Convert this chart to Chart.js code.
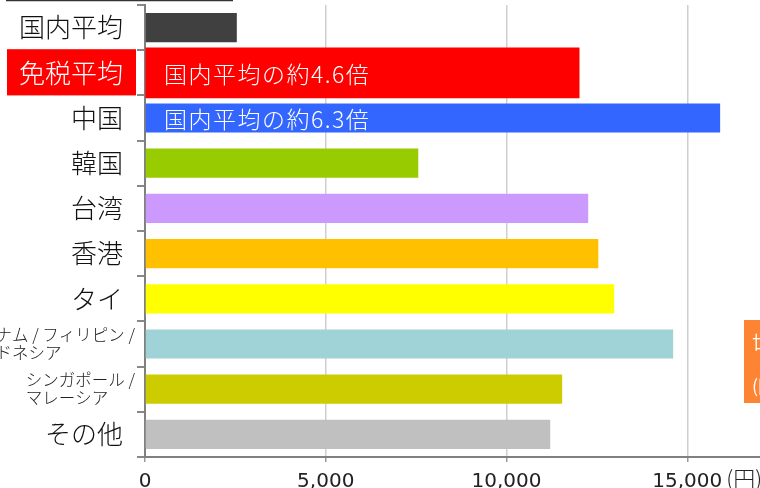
<!DOCTYPE html>
<html lang="ja">
<head>
<meta charset="utf-8">
<title>免税売上 一人当たり購買単価</title>
<script src="https://cdn.jsdelivr.net/npm/chart.js@4"></script>
<style>
  html, body { margin: 0; padding: 0; background: #fff; overflow: hidden; }
  #wrap { position: relative; width: 760px; height: 488px; overflow: hidden; }
  #spendChart { position: absolute; left: -40px; top: 0; }
</style>
</head>
<body>
<div id="wrap">
  <canvas id="spendChart" width="960" height="488"></canvas>
</div>
<script>
// =============================================
// DATA
// =============================================

const categories = [
    '国内平均',
    '免税平均',
    '中国',
    '韓国',
    '台湾',
    '香港',
    'タイ',
    ['ベトナム / フィリピン /', 'インドネシア'],
    ['シンガポール /', 'マレーシア'],
    'その他'
];

// 一人当たり購買単価 (円)
const spend = [2540, 12010, 15910, 7560, 12260, 12540, 12980, 14610, 11540, 11210];

const barColors = [
    '#404040', '#ff0000', '#3366ff', '#99cc00', '#cc99ff',
    '#ffc000', '#ffff00', '#9fd3d7', '#cccc00', '#c0c0c0'
];

const barNotes = ['', '国内平均の約4.6倍', '国内平均の約6.3倍', '', '', '', '', '', '', ''];

const xTicks = [0, 5000, 10000, 15000, 20000];
const unitLabel = '(円)';
const sideNote = ['世界', '(円)'];

const HIGHLIGHT = 1;   // 免税平均
const JP_FONT = '"Noto Sans CJK JP", "Noto Sans", sans-serif';

// =============================================
// PLUGINS
// =============================================

// white notes inside the highlighted bars
const barNotePlugin = {
    id: 'barNotes',
    afterDatasetsDraw(chart) {
        const { ctx, chartArea, scales } = chart;
        ctx.save();
        ctx.font = '300 23px ' + JP_FONT;
        ctx.letterSpacing = '1.5px';
        ctx.fillStyle = '#ffffff';
        ctx.textAlign = 'left';
        ctx.textBaseline = 'middle';
        barNotes.forEach((note, i) => {
            if (!note) return;
            ctx.fillText(note, chartArea.left + 19, scales.y.getPixelForValue(i) + 1);
        });
        ctx.restore();
    }
};

// two-line category names: block sits right, lines start flush left
const multiLabelPlugin = {
    id: 'multiLabels',
    afterDraw(chart) {
        const { ctx, scales } = chart;
        const right = scales.y.right - 10;
        ctx.save();
        ctx.font = '300 16.5px ' + JP_FONT;
        ctx.fillStyle = '#222';
        ctx.textAlign = 'left';
        ctx.textBaseline = 'middle';
        categories.forEach((label, i) => {
            if (!Array.isArray(label)) return;
            const width = Math.max(...label.map(l => ctx.measureText(l).width));
            const y = scales.y.getPixelForValue(i);
            const lineH = 18;
            label.forEach((line, k) => {
                ctx.fillText(line, right - width, y + (k - (label.length - 1) / 2) * lineH);
            });
        });
        ctx.restore();
    }
};

// unit after the 15,000 tick, the rule above, and the side box
const extrasPlugin = {
    id: 'extras',
    afterDraw(chart) {
        const { ctx, scales, chartArea } = chart;
        const xs = scales.x;
        ctx.save();

        ctx.font = '300 22px ' + JP_FONT;
        ctx.fillStyle = '#222';
        ctx.textAlign = 'left';
        ctx.textBaseline = 'middle';
        ctx.fillText(unitLabel, xs.getPixelForValue(15000) + 39, chartArea.bottom + 22);

        // rule along the top edge
        ctx.strokeStyle = '#333';
        ctx.lineWidth = 1.5;
        ctx.beginPath();
        ctx.moveTo(46, 0.5);
        ctx.lineTo(273, 0.5);
        ctx.stroke();

        // orange side box
        ctx.fillStyle = '#fd8432';
        ctx.fillRect(784, 320, 120, 83);
        ctx.fillStyle = '#ffffff';
        ctx.font = '18px ' + JP_FONT;
        ctx.fillText(sideNote[0], 792, 342);
        ctx.fillText(sideNote[1], 792, 386);

        ctx.restore();
    }
};

// =============================================
// CHART
// =============================================

const mainValues = spend.map((v, i) => (i === HIGHLIGHT ? null : v));
const highlightValues = spend.map((v, i) => (i === HIGHLIGHT ? v : null));

const ctx = document.getElementById('spendChart').getContext('2d');

const chart = new Chart(ctx, {
    type: 'bar',
    data: {
        labels: categories,
        datasets: [
            {
                label: '購買単価',
                data: mainValues,
                backgroundColor: barColors,
                borderWidth: 0,
                barPercentage: 1,
                categoryPercentage: 0.645,
                grouped: false
            },
            {
                label: '免税平均',
                data: highlightValues,
                backgroundColor: barColors[HIGHLIGHT],
                borderWidth: 0,
                barThickness: 50,
                grouped: false
            }
        ]
    },
    options: {
        indexAxis: 'y',
        responsive: false,
        animation: false,
        layout: { padding: { top: 5, left: 0, right: 52, bottom: 0 } },
        plugins: {
            legend: { display: false },
            tooltip: { enabled: false }
        },
        scales: {
            x: {
                min: 0,
                max: 20000,
                afterBuildTicks: (scale) => {
                    scale.ticks = xTicks.map(v => ({ value: v }));
                },
                ticks: {
                    font: { family: '"DejaVu Sans", sans-serif', size: 20 },
                    color: '#222',
                    padding: 8,
                    maxRotation: 0,
                    callback: (value) => value.toLocaleString('en-US')
                },
                grid: {
                    color: (c) => (c.tick && c.tick.value === 0 ? 'rgba(0,0,0,0)' : '#cfcfcf'),
                    lineWidth: 1.5,
                    tickLength: 5,
                    tickColor: '#999'
                },
                border: { color: '#808080', width: 2 },
                afterFit: (scale) => { scale.height = 31; }
            },
            y: {
                grid: {
                    drawOnChartArea: false,
                    tickLength: 8,
                    tickColor: '#888',
                    lineWidth: 2
                },
                border: { color: '#808080', width: 2 },
                ticks: {
                    padding: 14,
                    autoSkip: false,
                    font: { family: JP_FONT, size: 26, weight: '300' },
                    color: (c) => (c.index === HIGHLIGHT ? '#ffffff' : '#111'),
                    showLabelBackdrop: (c) => c.index === HIGHLIGHT,
                    backdropColor: barColors[HIGHLIGHT],
                    backdropPadding: { left: 12, right: 13, top: 8, bottom: 7 },
                    callback: (value, i) => (Array.isArray(categories[i]) ? '' : categories[i])
                },
                afterFit: (scale) => {
                    scale.width = 185;
                    scale.paddingTop = 0;
                    scale.paddingBottom = 0;
                }
            }
        }
    },
    plugins: [barNotePlugin, multiLabelPlugin, extrasPlugin]
});
</script>
</body>
</html>
